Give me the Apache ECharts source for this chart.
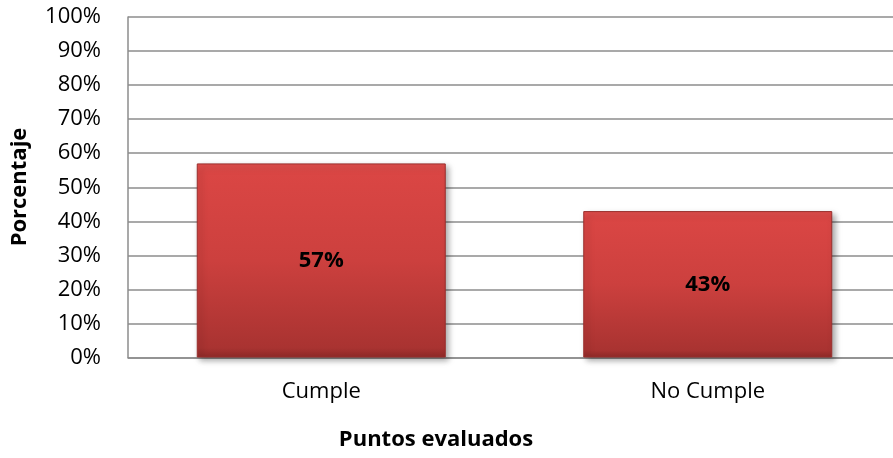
<!DOCTYPE html>
<html><head><meta charset="utf-8">
<script src="https://cdn.jsdelivr.net/npm/echarts@6/dist/echarts.min.js"></script>
<style>html,body{margin:0;padding:0;background:#fff;overflow:hidden}#c{width:901px;height:458px}</style>
</head><body><div id="c"></div>
<script>
const categories = ['Cumple', 'No Cumple'];
const values = [57, 43];
const yTicks = [0, 10, 20, 30, 40, 50, 60, 70, 80, 90, 100];
const FONT = '"Open Sans", sans-serif';
const chart = echarts.init(document.getElementById('c'), null, {renderer: 'canvas'});
chart.setOption({
  animation: false,
  grid: {left: 128, top: 17, right: 0, height: 340.5, containLabel: false},
  xAxis: {
    type: 'category', data: categories,
    axisLine: {lineStyle: {color: '#8c8c8c', width: 1.5}},
    axisTick: {show: false},
    axisLabel: {color: '#000', fontSize: 22, fontFamily: FONT, margin: 23}
  },
  yAxis: {
    type: 'value', min: 0, max: 100, interval: 10,
    axisLine: {show: true, lineStyle: {color: '#8c8c8c', width: 1.5}},
    axisTick: {show: false},
    splitLine: {lineStyle: {color: '#8c8c8c', width: 1.5}},
    axisLabel: {color: '#000', fontSize: 22, fontFamily: FONT, margin: 27,
      formatter: v => yTicks.includes(v) ? v + '%' : ''}
  },
  series: [{
    type: 'bar', data: values, barWidth: 249,
    itemStyle: {
      color: new echarts.graphic.LinearGradient(0, 0, 0, 1, [
        {offset: 0, color: '#e04e4c'},
        {offset: 0.05, color: '#da4644'},
        {offset: 0.5, color: '#cc403e'},
        {offset: 0.95, color: '#a93331'},
        {offset: 1, color: '#8f2a28'}
      ]),
      borderColor: '#9a2f2d', borderWidth: 1,
      shadowColor: 'rgba(0,0,0,0.35)', shadowBlur: 6, shadowOffsetX: 3, shadowOffsetY: 3
    },
    label: {show: true, position: 'inside', color: '#000', fontWeight: 'bold',
      fontSize: 22, fontFamily: FONT, formatter: p => p.value + '%'}
  }],
  graphic: [
    {type: 'text', x: 436, y: 440, style: {text: 'Puntos evaluados', font: 'bold 22px ' + FONT, fill: '#000', textAlign: 'center', textVerticalAlign: 'middle'}},
    {type: 'text', x: 20, y: 187, rotation: Math.PI / 2, style: {text: 'Porcentaje', font: 'bold 22px ' + FONT, fill: '#000', textAlign: 'center', textVerticalAlign: 'middle'}}
  ]
});
</script></body></html>
